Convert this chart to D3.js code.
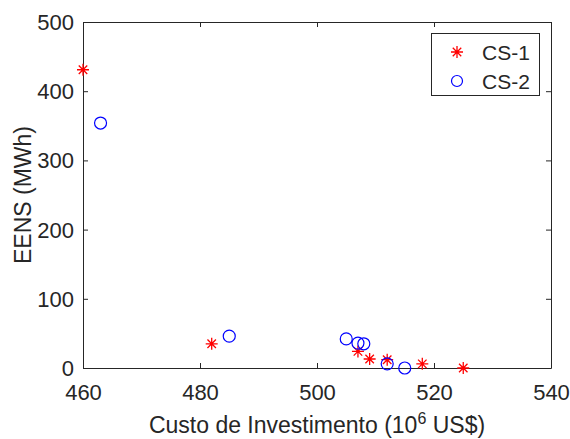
<!DOCTYPE html>
<html>
<head>
<meta charset="utf-8">
<script src="https://cdn.jsdelivr.net/npm/d3@7/dist/d3.min.js"></script>
<style>
  html, body { margin: 0; padding: 0; background: #fff; }
  svg { display: block; }
  text { font-family: "Liberation Sans", Arial, sans-serif; fill: #262626; }
</style>
</head>
<body>
<svg id="chart" width="570" height="439"></svg>
<script>
// Investment cost (10^6 US$) and EENS (MWh) for each case
const cs1Cost = [460, 482, 507, 509, 512, 518, 525];
const cs1Eens = [431, 35, 24, 13, 12, 6, 0];
const cs2Cost = [463, 485, 505, 507, 508, 512, 515];
const cs2Eens = [354, 46, 42, 36, 35, 6, 0];
const xTicks = [460, 480, 500, 520, 540];
const yTicks = [0, 100, 200, 300, 400, 500];
const seriesNames = ["CS-1", "CS-2"];

const svg = d3.select("#chart");
const margin = { left: 83, right: 19, top: 22, bottom: 71 };
const W = 570, H = 439;
const x = d3.scaleLinear().domain([460, 540]).range([margin.left, W - margin.right]);
const y = d3.scaleLinear().domain([0, 500]).range([H - margin.bottom, margin.top]);
const ink = "#262626";

// MATLAB-style '*' marker: plus and cross combined
const starSymbol = {
  draw(ctx, size) {
    const r = Math.sqrt(size) / 2;
    const d = r * Math.SQRT1_2;
    ctx.moveTo(-r, 0); ctx.lineTo(r, 0);
    ctx.moveTo(0, -r); ctx.lineTo(0, r);
    ctx.moveTo(-d, -d); ctx.lineTo(d, d);
    ctx.moveTo(-d, d); ctx.lineTo(d, -d);
  }
};
const star = d3.symbol().type(starSymbol).size(144);

// Axes with inward ticks on all four sides
const tick = 5;
const tickFont = 22;
const labelFont = 23;
const axB = svg.append("g").attr("transform", `translate(0,${y(0)})`)
  .call(d3.axisBottom(x).tickValues(xTicks).tickSizeInner(-tick).tickSizeOuter(0));
const axT = svg.append("g").attr("transform", `translate(0,${y(500)})`)
  .call(d3.axisTop(x).tickValues(xTicks).tickSizeInner(-tick).tickSizeOuter(0).tickFormat(""));
const axL = svg.append("g").attr("transform", `translate(${x(460)},0)`)
  .call(d3.axisLeft(y).tickValues(yTicks).tickSizeInner(-tick).tickSizeOuter(0).tickPadding(9));
const axR = svg.append("g").attr("transform", `translate(${x(540)},0)`)
  .call(d3.axisRight(y).tickValues(yTicks).tickSizeInner(-tick).tickSizeOuter(0).tickFormat(""));
[axB, axT, axL, axR].forEach(g => {
  g.select(".domain").attr("stroke", ink).attr("stroke-width", 1);
  g.selectAll(".tick line").attr("stroke", ink).attr("stroke-width", 1);
  g.selectAll(".tick text").attr("font-size", tickFont).attr("font-family", "Liberation Sans, Arial, sans-serif").attr("fill", ink);
});
axB.selectAll(".tick text").attr("y", 32).attr("dy", 0);
axL.selectAll(".tick text").attr("dy", "0.34em");

// Axis titles
const xt = svg.append("text").attr("x", (x(460) + x(540)) / 2).attr("y", 433)
  .attr("text-anchor", "middle").attr("font-size", labelFont);
xt.append("tspan").text("Custo de Investimento (10");
xt.append("tspan").attr("font-size", 16).attr("dy", -9).text("6");
xt.append("tspan").attr("dy", 9).text(" US$)");

svg.append("text").attr("transform", `translate(31,${(y(0) + y(500)) / 2}) rotate(-90)`)
  .attr("text-anchor", "middle").attr("font-size", labelFont).text("EENS (MWh)");

// Data markers
const cs1 = cs1Cost.map((c, i) => ({ c, e: cs1Eens[i] }));
const cs2 = cs2Cost.map((c, i) => ({ c, e: cs2Eens[i] }));

svg.append("g").selectAll("path").data(cs1).join("path")
  .attr("d", star)
  .attr("transform", d => `translate(${x(d.c)},${y(d.e)})`)
  .attr("fill", "none").attr("stroke", "#ff0000").attr("stroke-width", 1.3);

svg.append("g").selectAll("circle").data(cs2).join("circle")
  .attr("cx", d => x(d.c)).attr("cy", d => y(d.e)).attr("r", 6)
  .attr("fill", "none").attr("stroke", "#0000ff").attr("stroke-width", 1.2);

// Legend
const lg = svg.append("g");
lg.append("rect").attr("x", 431.5).attr("y", 33.5).attr("width", 108).attr("height", 62)
  .attr("fill", "#fff").attr("stroke", ink).attr("stroke-width", 1);
lg.append("path").attr("d", star).attr("transform", "translate(457,52)")
  .attr("fill", "none").attr("stroke", "#ff0000").attr("stroke-width", 1.3);
lg.append("circle").attr("cx", 457).attr("cy", 81).attr("r", 5.5)
  .attr("fill", "none").attr("stroke", "#0000ff").attr("stroke-width", 1.2);
lg.append("text").attr("x", 482).attr("y", 60).attr("font-size", 21).text(seriesNames[0]);
lg.append("text").attr("x", 482).attr("y", 89).attr("font-size", 21).text(seriesNames[1]);
</script>
</body>
</html>
